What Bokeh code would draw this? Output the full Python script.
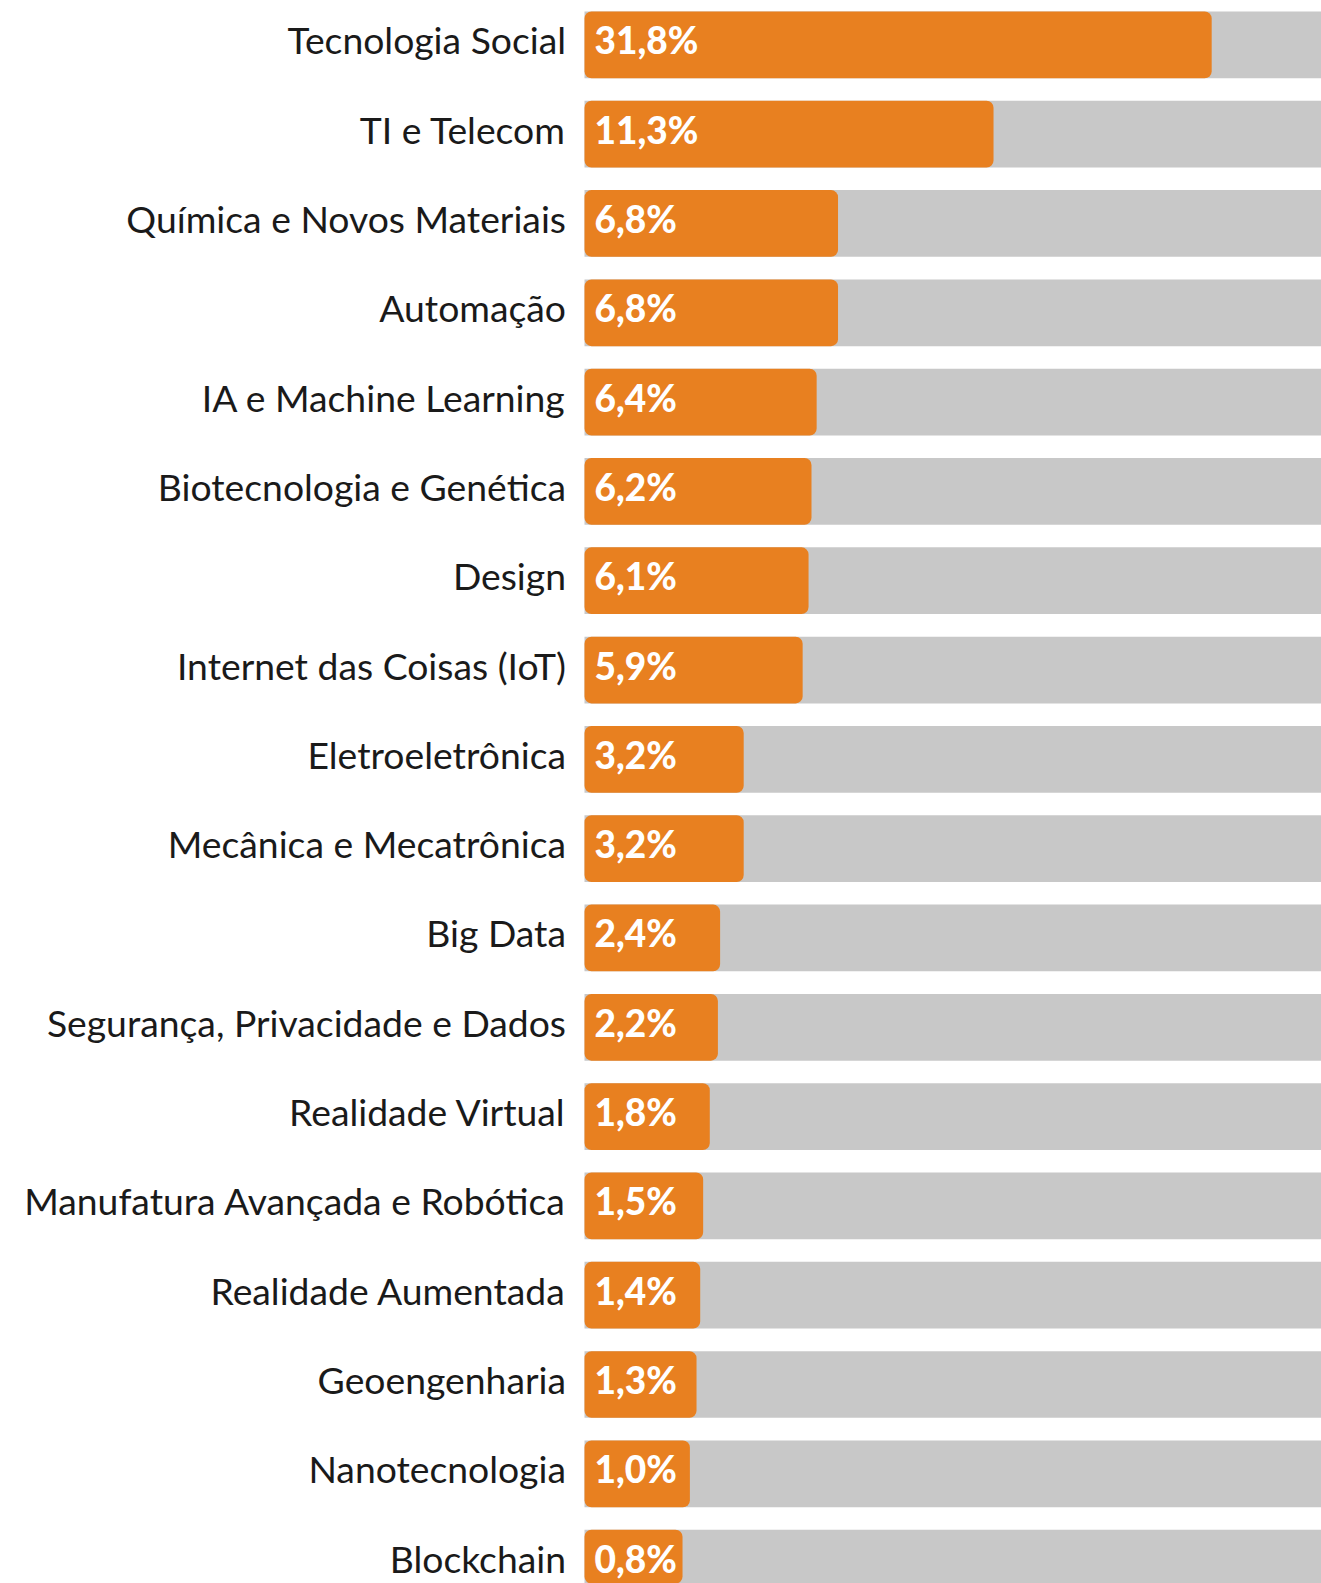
from bokeh.plotting import figure
from bokeh.models import ColumnDataSource, Range1d
from bokeh.core.properties import value
from bokeh.embed import file_html
from bokeh.resources import INLINE

# ---- data ----
categories = [
    "Tecnologia Social",
    "TI e Telecom",
    "Química e Novos Materiais",
    "Automação",
    "IA e Machine Learning",
    "Biotecnologia e Genética",
    "Design",
    "Internet das Coisas (IoT)",
    "Eletroeletrônica",
    "Mecânica e Mecatrônica",
    "Big Data",
    "Segurança, Privacidade e Dados",
    "Realidade Virtual",
    "Manufatura Avançada e Robótica",
    "Realidade Aumentada",
    "Geoengenharia",
    "Nanotecnologia",
    "Blockchain",
]
shares = [31.8, 11.3, 6.8, 6.8, 6.4, 6.2, 6.1, 5.9, 3.2, 3.2, 2.4, 2.2, 1.8, 1.5, 1.4, 1.3, 1.0, 0.8]
value_labels = ["31,8%", "11,3%", "6,8%", "6,8%", "6,4%", "6,2%", "6,1%", "5,9%", "3,2%", "3,2%",
                "2,4%", "2,2%", "1,8%", "1,5%", "1,4%", "1,3%", "1,0%", "0,8%"]
# drawn length of each orange bar, as share of the grey track (track = 100)
bar_length = [85.1, 55.5, 34.4, 34.4, 31.5, 30.8, 30.4, 29.6, 21.6, 21.6,
              18.4, 18.1, 17.0, 16.1, 15.7, 15.2, 14.3, 13.3]
track_full = [100.0] * len(categories)

rows = list(range(len(categories)))

src = ColumnDataSource(dict(
    row=rows, cat=categories, share=shares, lab=value_labels,
    blen=bar_length, track=track_full,
))

ORANGE = "#E88020"
GREY = "#C8C8C8"
TEXT = "#1A1A1A"

p = figure(
    width=1321, height=1583,
    x_range=Range1d(-79.24, 100.0),
    y_range=Range1d(17.228, -0.4966),
    output_backend="svg", toolbar_location=None,
    min_border=0, min_border_left=0, min_border_right=0,
    min_border_top=0, min_border_bottom=0,
)
p.axis.visible = False
p.grid.visible = False
p.outline_line_color = None
p.background_fill_color = "white"
p.border_fill_color = "white"

# grey track
p.hbar(y="row", left=0, right="track", height=0.747, source=src,
       fill_color=GREY, line_color=None)
# orange value bar
p.hbar(y="row", left=0, right="blen", height=0.747, source=src,
       fill_color=ORANGE, line_color=None, border_radius=7)

# category labels
p.text(x=0, y="row", text="cat", source=src,
       x_offset=-18.5, y_offset=-5.0,
       text_align="right", text_baseline="alphabetic",
       text_font=value("Lato"), text_font_size="37.3px", text_color=TEXT)

# value labels
p.text(x=0, y="row", text="lab", source=src,
       x_offset=10, y_offset=-5.0,
       text_align="left", text_baseline="alphabetic",
       text_font=value("Lato Black"), text_font_size="37px", text_font_style="bold",
       text_color="white")

open("out.html", "w").write(file_html(p, INLINE))
